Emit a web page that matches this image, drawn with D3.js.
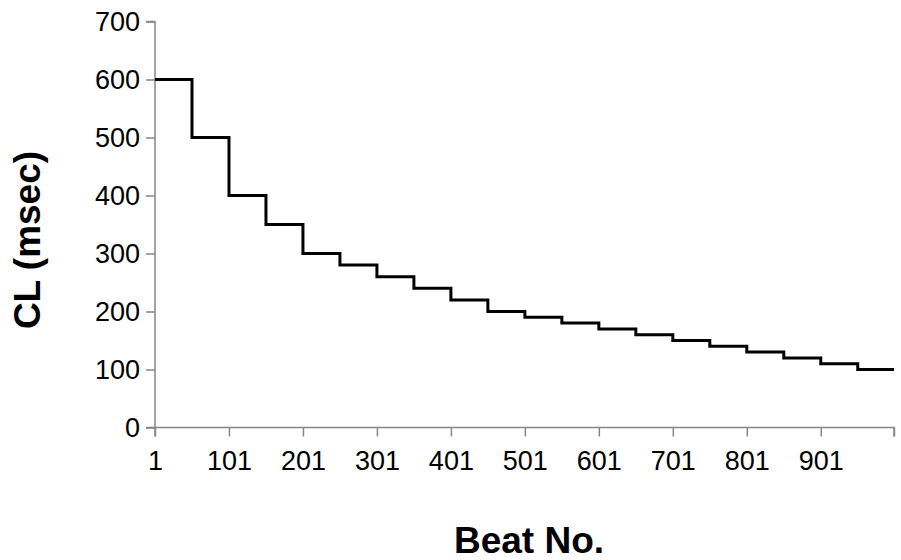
<!DOCTYPE html>
<html>
<head>
<meta charset="utf-8">
<script src="https://cdn.jsdelivr.net/npm/d3@7"></script>
<style>
  html, body { margin: 0; padding: 0; background: #fff; }
  svg { display: block; }
</style>
</head>
<body>
<svg id="chart" width="901" height="560"></svg>
<script>
// Data: step start beats and cycle length (msec) for each step
const stepStartBeats = [1, 51, 101, 151, 201, 251, 301, 351, 401, 451, 501, 551, 601, 651, 701, 751, 801, 851, 901, 951];
const cycleLengths   = [600, 500, 400, 350, 300, 280, 260, 240, 220, 200, 190, 180, 170, 160, 150, 140, 130, 120, 110, 100];
const lastBeat = 1000;
const xTickValues = [1, 101, 201, 301, 401, 501, 601, 701, 801, 901];
const yTickValues = [0, 100, 200, 300, 400, 500, 600, 700];
const xTitle = "Beat No.";
const yTitle = "CL (msec)";

const svg = d3.select("#chart");
const mLeft = 155, mRight = 894, mTop = 21.5, mBottom = 427.5;

const x = d3.scaleLinear().domain([1, lastBeat]).range([mLeft, mRight]);
const y = d3.scaleLinear().domain([0, 700]).range([mBottom, mTop]);

const axisColor = "#868686";

// Y axis
const yAxis = svg.append("g")
  .attr("transform", `translate(${mLeft},0)`)
  .call(d3.axisLeft(y).tickValues(yTickValues).tickSize(9).tickPadding(6));
// X axis
const xAxis = svg.append("g")
  .attr("transform", `translate(0,${mBottom})`)
  .call(d3.axisBottom(x).tickValues(xTickValues.concat([lastBeat]))
        .tickFormat(d => d === lastBeat ? "" : d).tickSize(9).tickPadding(14));

[yAxis, xAxis].forEach(g => {
  g.select(".domain").attr("stroke", axisColor).attr("stroke-width", 1.5);
  g.selectAll(".tick line").attr("stroke", axisColor).attr("stroke-width", 1.5);
  g.selectAll(".tick text")
    .attr("fill", "#000")
    .style("font-family", "Arial, 'Liberation Sans', sans-serif")
    .style("font-size", "27px");
});
yAxis.select(".domain").attr("d", `M-9,${mBottom}H0V${mTop}H-9`);
xAxis.select(".domain").attr("d", `M${mLeft},9V0H${mRight}V9`);

// Step line
const pts = stepStartBeats.map((b, i) => [b, cycleLengths[i]]);
pts.push([lastBeat, cycleLengths[cycleLengths.length - 1]]);
const line = d3.line().x(d => x(d[0])).y(d => y(d[1])).curve(d3.curveStepAfter);
svg.append("path")
  .datum(pts)
  .attr("d", line)
  .attr("fill", "none")
  .attr("stroke", "#000")
  .attr("stroke-width", 3)
  .attr("stroke-linejoin", "miter");

// Axis titles
svg.append("text")
  .attr("x", 529).attr("y", 553)
  .attr("text-anchor", "middle")
  .style("font-family", "Arial, 'Liberation Sans', sans-serif")
  .style("font-size", "37px").style("font-weight", "bold")
  .text(xTitle);

svg.append("text")
  .attr("transform", "translate(40,240) rotate(-90)")
  .attr("text-anchor", "middle")
  .style("font-family", "Arial, 'Liberation Sans', sans-serif")
  .style("font-size", "37px").style("font-weight", "bold")
  .text(yTitle);
</script>
</body>
</html>
